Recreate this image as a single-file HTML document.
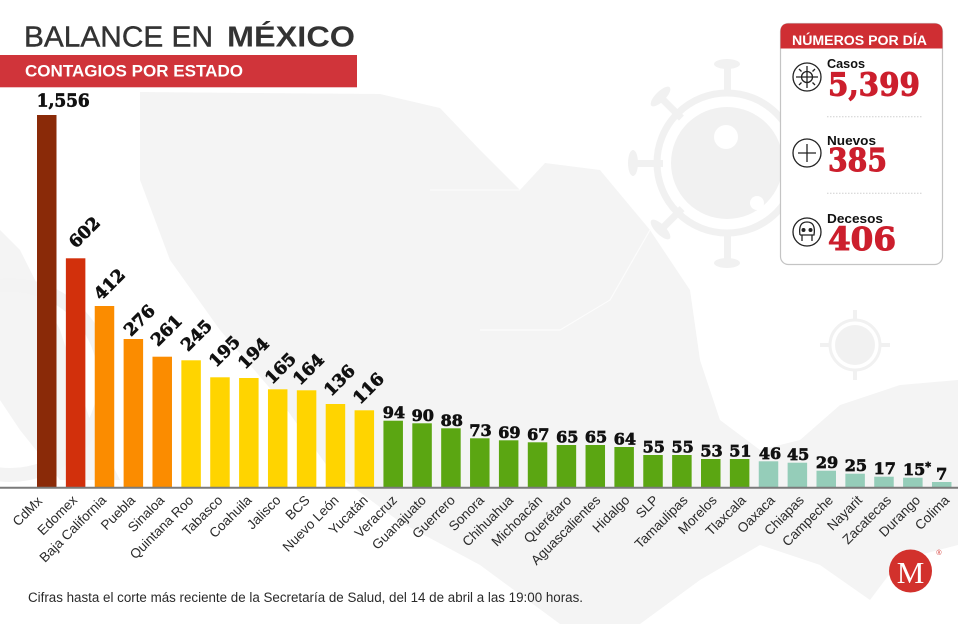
<!DOCTYPE html>
<html><head><meta charset="utf-8"><style>
html,body{margin:0;padding:0;background:#fff;}
svg{display:block;}
.num{font-family:"DejaVu Serif","Liberation Serif",serif;font-weight:bold;fill:#111;stroke:#111;stroke-width:0.7;}
.lab{font-family:"Liberation Sans",sans-serif;font-size:13.5px;fill:#2a2a2a;}
</style></head><body>
<svg width="958" height="624" viewBox="0 0 958 624" xmlns="http://www.w3.org/2000/svg">
<!-- background map -->
<g fill="#f4f4f4">
<path d="M140,92 L380,94 L440,108 L480,150 L520,190 L545,163 L600,170 L650,230 L690,290 L700,360 L720,420 L760,450 L800,440 L840,405 L900,385 L958,380 L958,545 L900,560 L870,600 L820,565 L760,545 L700,580 L640,624 L560,624 L480,565 L400,522 L330,470 L280,400 L220,330 L170,260 L140,180 Z"/>
<path d="M0,230 L20,250 L60,330 L90,420 L120,480 L60,480 L20,430 L0,400 Z"/>
</g>
<g stroke="#fff" stroke-width="1.2" fill="none" opacity="0.7">
<path d="M430,190 L520,190"/>
<path d="M480,330 L560,330 L610,300 L650,230"/>
</g>
<!-- background virus -->
<g fill="#f1f1f1" stroke="none">
<circle cx="727" cy="163" r="56"/>
<circle cx="727" cy="163" r="70" fill="none" stroke="#f1f1f1" stroke-width="7"/>
<rect x="724" y="65" width="7" height="26"/><ellipse cx="727" cy="64" rx="13" ry="5"/>
<rect x="724" y="235" width="7" height="26"/><ellipse cx="727" cy="263" rx="13" ry="5"/>
<rect x="637" y="160" width="26" height="7"/><ellipse cx="633" cy="163" rx="5" ry="13"/>
<g transform="rotate(-45 727 163)"><rect x="637" y="160" width="26" height="7"/><ellipse cx="633" cy="163" rx="5" ry="13"/></g>
<g transform="rotate(45 727 163)"><rect x="637" y="160" width="26" height="7"/><ellipse cx="633" cy="163" rx="5" ry="13"/></g>
</g>
<circle cx="726" cy="137" r="12" fill="#fff"/>
<circle cx="757" cy="203" r="7" fill="#fff"/>
<g fill="#f1f1f1">
<circle cx="855" cy="345" r="20"/>
<circle cx="855" cy="345" r="25" fill="none" stroke="#f1f1f1" stroke-width="3"/>
<rect x="853" y="310" width="4" height="10"/><rect x="853" y="370" width="4" height="10"/>
<rect x="820" y="343" width="10" height="4"/><rect x="880" y="343" width="10" height="4"/>
</g>
<g fill="none" stroke="#f3f3f3" stroke-width="14"><circle cx="10" cy="380" r="95"/></g>

<!-- title -->
<text x="24" y="46.7" font-family="Liberation Sans, sans-serif" font-size="29" fill="#333" stroke="#333" stroke-width="0.4"><tspan textLength="189" lengthAdjust="spacingAndGlyphs">BALANCE EN</tspan></text>
<text x="227" y="46.7" font-family="Liberation Sans, sans-serif" font-size="29" font-weight="bold" fill="#333" textLength="128" lengthAdjust="spacingAndGlyphs">MÉXICO</text>
<rect x="0" y="55" width="357" height="32.3" fill="#d0343a"/>
<text x="25" y="76.7" font-family="Liberation Sans, sans-serif" font-size="16.5" font-weight="bold" fill="#fff" textLength="218" lengthAdjust="spacingAndGlyphs">CONTAGIOS POR ESTADO</text>

<!-- bars -->
<g>
<rect x="37.00" y="115" width="19.5" height="372" fill="#8a2a08"/>
<rect x="65.87" y="258.3" width="19.5" height="228.7" fill="#d2300c"/>
<rect x="94.74" y="306" width="19.5" height="181" fill="#fb8c00"/>
<rect x="123.61" y="339" width="19.5" height="148" fill="#fb8c00"/>
<rect x="152.48" y="356.7" width="19.5" height="130.3" fill="#fb8c00"/>
<rect x="181.35" y="360.3" width="19.5" height="126.7" fill="#ffd400"/>
<rect x="210.22" y="377.3" width="19.5" height="109.7" fill="#ffd400"/>
<rect x="239.09" y="378" width="19.5" height="109" fill="#ffd400"/>
<rect x="267.96" y="389.3" width="19.5" height="97.7" fill="#ffd400"/>
<rect x="296.83" y="390.3" width="19.5" height="96.7" fill="#ffd400"/>
<rect x="325.70" y="404" width="19.5" height="83" fill="#ffd400"/>
<rect x="354.57" y="410.3" width="19.5" height="76.7" fill="#ffd400"/>
<rect x="383.44" y="420.7" width="19.5" height="66.3" fill="#5ba612"/>
<rect x="412.31" y="423.3" width="19.5" height="63.7" fill="#5ba612"/>
<rect x="441.18" y="428.3" width="19.5" height="58.7" fill="#5ba612"/>
<rect x="470.05" y="438.3" width="19.5" height="48.7" fill="#5ba612"/>
<rect x="498.92" y="440.3" width="19.5" height="46.7" fill="#5ba612"/>
<rect x="527.79" y="442.3" width="19.5" height="44.7" fill="#5ba612"/>
<rect x="556.66" y="445" width="19.5" height="42" fill="#5ba612"/>
<rect x="585.53" y="445" width="19.5" height="42" fill="#5ba612"/>
<rect x="614.40" y="447" width="19.5" height="40" fill="#5ba612"/>
<rect x="643.27" y="455" width="19.5" height="32" fill="#5ba612"/>
<rect x="672.14" y="455" width="19.5" height="32" fill="#5ba612"/>
<rect x="701.01" y="459" width="19.5" height="28" fill="#5ba612"/>
<rect x="729.88" y="459" width="19.5" height="28" fill="#5ba612"/>
<rect x="758.75" y="461.3" width="19.5" height="25.7" fill="#95cdb9"/>
<rect x="787.62" y="462.7" width="19.5" height="24.3" fill="#95cdb9"/>
<rect x="816.49" y="470.7" width="19.5" height="16.3" fill="#95cdb9"/>
<rect x="845.36" y="473.7" width="19.5" height="13.3" fill="#95cdb9"/>
<rect x="874.23" y="476.7" width="19.5" height="10.3" fill="#95cdb9"/>
<rect x="903.10" y="477.7" width="19.5" height="9.3" fill="#95cdb9"/>
<rect x="931.97" y="482" width="19.5" height="5" fill="#95cdb9"/>
</g>
<line x1="0" y1="487.8" x2="958" y2="487.8" stroke="#7a7a7a" stroke-width="2"/>

<!-- value labels -->
<text class="num" x="36.7" y="106.7" font-size="18" textLength="53" lengthAdjust="spacingAndGlyphs">1,556</text>
<g class="num" font-size="17">
<text transform="translate(76,249) rotate(-45)">602</text>
<text transform="translate(101,301) rotate(-45)">412</text>
<text transform="translate(131,337) rotate(-45)">276</text>
<text transform="translate(158,347) rotate(-45)">261</text>
<text transform="translate(188,352) rotate(-45)">245</text>
<text transform="translate(216,368) rotate(-45)">195</text>
<text transform="translate(245,370) rotate(-45)">194</text>
<text transform="translate(272,385) rotate(-45)">165</text>
<text transform="translate(300,386) rotate(-45)">164</text>
<text transform="translate(331,397) rotate(-45)">136</text>
<text transform="translate(360,405) rotate(-45)">116</text>
</g>
<g class="num" font-size="16" text-anchor="middle">
<text x="393.9" y="418.2">94</text>
<text x="422.8" y="420.8">90</text>
<text x="451.7" y="425.8">88</text>
<text x="480.5" y="435.8">73</text>
<text x="509.4" y="437.8">69</text>
<text x="538.3" y="439.8">67</text>
<text x="567.2" y="442.5">65</text>
<text x="596.0" y="442.5">65</text>
<text x="624.9" y="444.5">64</text>
<text x="653.8" y="452.5">55</text>
<text x="682.6" y="452.5">55</text>
<text x="711.5" y="456.5">53</text>
<text x="740.4" y="456.5">51</text>
<text x="770.0" y="458.8">46</text>
<text x="798.1" y="460.2">45</text>
<text x="827.0" y="468.2">29</text>
<text x="855.9" y="471.2">25</text>
<text x="884.7" y="474.2">17</text>
<text x="941.7" y="479.5">7</text>
</g>
<text class="num" x="903" y="475.2" font-size="16">15<tspan font-size="11" dy="-5">*</tspan></text>

<!-- category labels -->
<g class="lab" text-anchor="end">
<text transform="translate(43,502) rotate(-45)">CdMx</text>
<text transform="translate(78,501) rotate(-45)">Edomex</text>
<text transform="translate(107.1,501) rotate(-45)">Baja California</text>
<text transform="translate(136.1,501) rotate(-45)">Puebla</text>
<text transform="translate(165.2,501) rotate(-45)">Sinaloa</text>
<text transform="translate(194.3,501) rotate(-45)">Quintana Roo</text>
<text transform="translate(223.4,501) rotate(-45)">Tabasco</text>
<text transform="translate(252.4,501) rotate(-45)">Coahuila</text>
<text transform="translate(281.5,501) rotate(-45)">Jalisco</text>
<text transform="translate(310.6,501) rotate(-45)">BCS</text>
<text transform="translate(339.6,501) rotate(-45)">Nuevo León</text>
<text transform="translate(368.7,501) rotate(-45)">Yucatán</text>
<text transform="translate(397.8,501) rotate(-45)">Veracruz</text>
<text transform="translate(426.9,501) rotate(-45)">Guanajuato</text>
<text transform="translate(455.9,501) rotate(-45)">Guerrero</text>
<text transform="translate(485.0,501) rotate(-45)">Sonora</text>
<text transform="translate(514.1,501) rotate(-45)">Chihuahua</text>
<text transform="translate(543.2,501) rotate(-45)">Michoacán</text>
<text transform="translate(572.2,501) rotate(-45)">Querétaro</text>
<text transform="translate(601.3,501) rotate(-45)">Aguascalientes</text>
<text transform="translate(630.4,501) rotate(-45)">Hidalgo</text>
<text transform="translate(659.4,501) rotate(-45)">SLP</text>
<text transform="translate(688.5,501) rotate(-45)">Tamaulipas</text>
<text transform="translate(717.6,501) rotate(-45)">Morelos</text>
<text transform="translate(746.7,501) rotate(-45)">Tlaxcala</text>
<text transform="translate(775.7,501) rotate(-45)">Oaxaca</text>
<text transform="translate(804.8,501) rotate(-45)">Chiapas</text>
<text transform="translate(833.9,501) rotate(-45)">Campeche</text>
<text transform="translate(862.9,501) rotate(-45)">Nayarit</text>
<text transform="translate(892.0,501) rotate(-45)">Zacatecas</text>
<text transform="translate(921.1,501) rotate(-45)">Durango</text>
<text transform="translate(950.2,501) rotate(-45)">Colima</text>
</g>

<!-- right panel -->
<rect x="780.5" y="23.5" width="162" height="241" rx="8" ry="8" fill="#fff" stroke="#c4c4c4" stroke-width="1.2"/>
<path d="M780.5,48.5 L780.5,31.5 Q780.5,23.5 788.5,23.5 L934.5,23.5 Q942.5,23.5 942.5,31.5 L942.5,48.5 Z" fill="#cf2e33"/>
<text x="792" y="45" font-family="Liberation Sans, sans-serif" font-size="13.5" font-weight="bold" fill="#fff" textLength="135" lengthAdjust="spacingAndGlyphs">NÚMEROS POR DÍA</text>

<g fill="none" stroke="#222" stroke-width="1.3">
<circle cx="807" cy="77" r="14"/>
<circle cx="807" cy="77" r="5.5"/>
<line x1="807" y1="66" x2="807" y2="88"/><line x1="796" y1="77" x2="818" y2="77"/>
<line x1="799" y1="69" x2="801.5" y2="71.5"/><line x1="815" y1="69" x2="812.5" y2="71.5"/>
<line x1="799" y1="85" x2="801.5" y2="82.5"/><line x1="815" y1="85" x2="812.5" y2="82.5"/>
<circle cx="807" cy="153" r="14"/>
<line x1="807" y1="144" x2="807" y2="162"/><line x1="798" y1="153" x2="816" y2="153"/>
<circle cx="807" cy="232" r="14"/>
<path d="M800,235 Q798,222 807,222 Q816,222 814,235 L812,235 L812,241 M802,235 L802,241 M800,235 L814,235"/>
</g>
<circle cx="803.5" cy="230" r="2" fill="#222"/><circle cx="810.5" cy="230" r="2" fill="#222"/>

<g font-family="Liberation Sans, sans-serif" font-weight="bold" font-size="13" fill="#111">
<text x="827" y="68" textLength="38" lengthAdjust="spacingAndGlyphs">Casos</text>
<text x="827" y="145" textLength="49" lengthAdjust="spacingAndGlyphs">Nuevos</text>
<text x="827" y="223" textLength="56" lengthAdjust="spacingAndGlyphs">Decesos</text>
</g>
<g font-family="DejaVu Serif, Liberation Serif, serif" font-weight="bold" font-size="32" fill="#cc1f2d" stroke="#cc1f2d" stroke-width="1">
<text x="828" y="95.5" textLength="92" lengthAdjust="spacingAndGlyphs">5,399</text>
<text x="828" y="171" textLength="59" lengthAdjust="spacingAndGlyphs">385</text>
<text x="828" y="250" textLength="68" lengthAdjust="spacingAndGlyphs">406</text>
</g>
<line x1="827" y1="116.7" x2="923" y2="116.7" stroke="#cfcfcf" stroke-width="1" stroke-dasharray="1.5 1.5"/>
<line x1="827" y1="193.3" x2="923" y2="193.3" stroke="#cfcfcf" stroke-width="1" stroke-dasharray="1.5 1.5"/>

<!-- footer -->
<text x="28" y="602" font-family="Liberation Sans, sans-serif" font-size="13.5" fill="#2a2a2a" textLength="555" lengthAdjust="spacingAndGlyphs">Cifras hasta el corte más reciente de la Secretaría de Salud, del 14 de abril a las 19:00 horas.</text>

<!-- logo -->
<circle cx="910.5" cy="571" r="21.5" fill="#d2312c"/>
<text x="910.5" y="583" text-anchor="middle" font-family="Liberation Serif, serif" font-size="31" fill="#fff">M</text>
<text x="939" y="555" text-anchor="middle" font-family="Liberation Sans, sans-serif" font-size="7" fill="#d2312c">®</text>
</svg>
</body></html>
